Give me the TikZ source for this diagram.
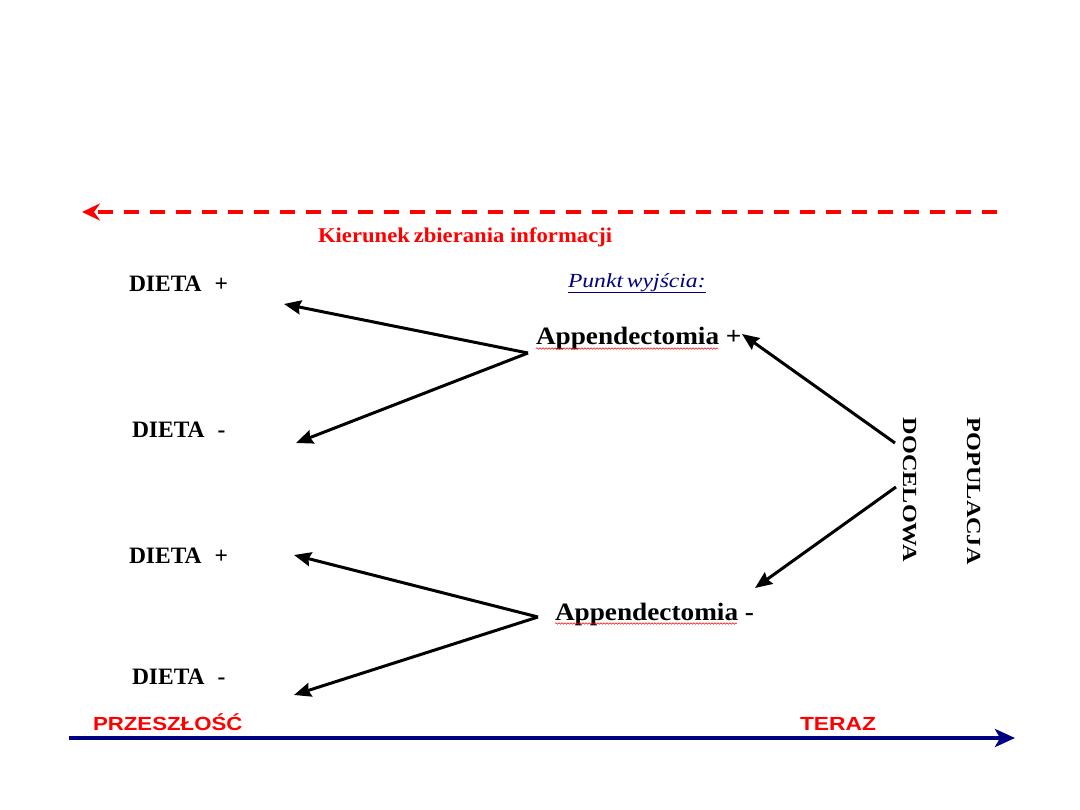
\documentclass[tikz,border=0pt]{standalone}
\usepackage{fontspec}
\setmainfont{Liberation Serif}
\newfontfamily\arialfont{Liberation Sans}
\usetikzlibrary{arrows.meta,decorations.pathmorphing}
\definecolor{navyline}{RGB}{0,0,128}
\definecolor{pred}{RGB}{255,0,0}
\begin{document}
\begin{tikzpicture}[x=1pt,y=-1pt,
  lbl/.style={inner sep=0pt, outer sep=0pt, anchor=base west},
  dieta/.style={lbl, font=\fontsize{23.5}{26}\selectfont\bfseries},
  appx/.style={lbl, font=\fontsize{25}{28}\selectfont\bfseries},
  pop/.style={lbl, rotate=-90, font=\fontsize{20}{22}\selectfont\bfseries},
  timeword/.style={lbl, text=pred, font=\fontsize{19}{21}\arialfont\bfseries},
  conn/.style={line width=3pt, -{Stealth[length=17pt,width=14pt,inset=2pt]}},
  wavy/.style={draw=pred, line width=0.5pt, decorate,
    decoration={snake, amplitude=0.8pt, segment length=3pt}}
]
\useasboundingbox (0,0) rectangle (1080,810);

% direction of information gathering
\coordinate (dashR) at (997,212);
\coordinate (dashL) at (82,212);
\draw[pred, line width=4.5pt, dash pattern=on 15pt off 11pt,
  -{Stealth[length=18pt,width=17pt,inset=6pt]}] (dashR) -- (dashL);
\node[lbl, text=pred, font=\fontsize{21}{24}\selectfont\bfseries] (kier) at (318,243)
  {\scalebox{1.08}[1]{Kierunek\,zbierania informacji}};

% starting point
\node[lbl, text=navyline, font=\fontsize{20}{22}\selectfont\itshape] (pw) at (568,288)
  {\scalebox{1.18}[1]{Punkt\,wyjścia:}};
\draw[navyline, line width=1.6pt] ([yshift=-4.5pt]pw.base west) -- ([yshift=-4.5pt]pw.base east);

% appendectomy nodes
\node[appx] (apPlus) at (536,345) {\scalebox{1.09}[1]{Appendectomia +}};
\node[appx] (apMinus) at (555,620) {\scalebox{1.09}[1]{Appendectomia -}};
\coordinate (wp1) at ([yshift=-3.5pt]apPlus.base west);
\coordinate (wp2) at ([xshift=182pt]wp1);
\draw[wavy] (wp1) -- (wp2);
\coordinate (wm1) at ([yshift=-3.5pt]apMinus.base west);
\coordinate (wm2) at ([xshift=182pt]wm1);
\draw[wavy] (wm1) -- (wm2);

% diet nodes
\node[dieta] (d1) at (129,292) {DIETA\hspace{0.55em}+};
\node[dieta] (d2) at (132,438) {DIETA\hspace{0.55em}-};
\node[dieta] (d3) at (129,563) {DIETA\hspace{0.55em}+};
\node[dieta] (d4) at (132,684) {DIETA\hspace{0.55em}-};

% target population
\node[pop] (popul) at (967,418) {\scalebox{1.21}[1]{POPULACJA}};
\node[pop] (docel) at (903,418) {\scalebox{1.21}[1]{DOCELOWA}};

% arrows
\coordinate (vTop) at (528,353);
\coordinate (vBot) at (538,617);
\coordinate (t1) at (284,304);
\coordinate (t2) at (296,443);
\coordinate (t3) at (294,555);
\coordinate (t4) at (294,695);
\coordinate (pA) at (895,443);
\coordinate (pB) at (896,487);
\coordinate (tA) at (742,334);
\coordinate (tB) at (755,588);
\draw[conn] (vTop) -- (t1);
\draw[conn] (vTop) -- (t2);
\draw[conn] (vBot) -- (t3);
\draw[conn] (vBot) -- (t4);
\draw[conn] (pA) -- (tA);
\draw[conn] (pB) -- (tB);

% time axis
\coordinate (axL) at (69,738);
\coordinate (axR) at (1015,738);
\draw[navyline, line width=4.5pt, -{Stealth[length=20pt,width=18pt,inset=5pt]}] (axL) -- (axR);
\node[timeword] (past) at (93,730) {\scalebox{1.17}[1]{PRZESZŁOŚĆ}};
\node[timeword] (now) at (800,730) {\scalebox{1.2}[1]{TERAZ}};
\end{tikzpicture}
\end{document}
